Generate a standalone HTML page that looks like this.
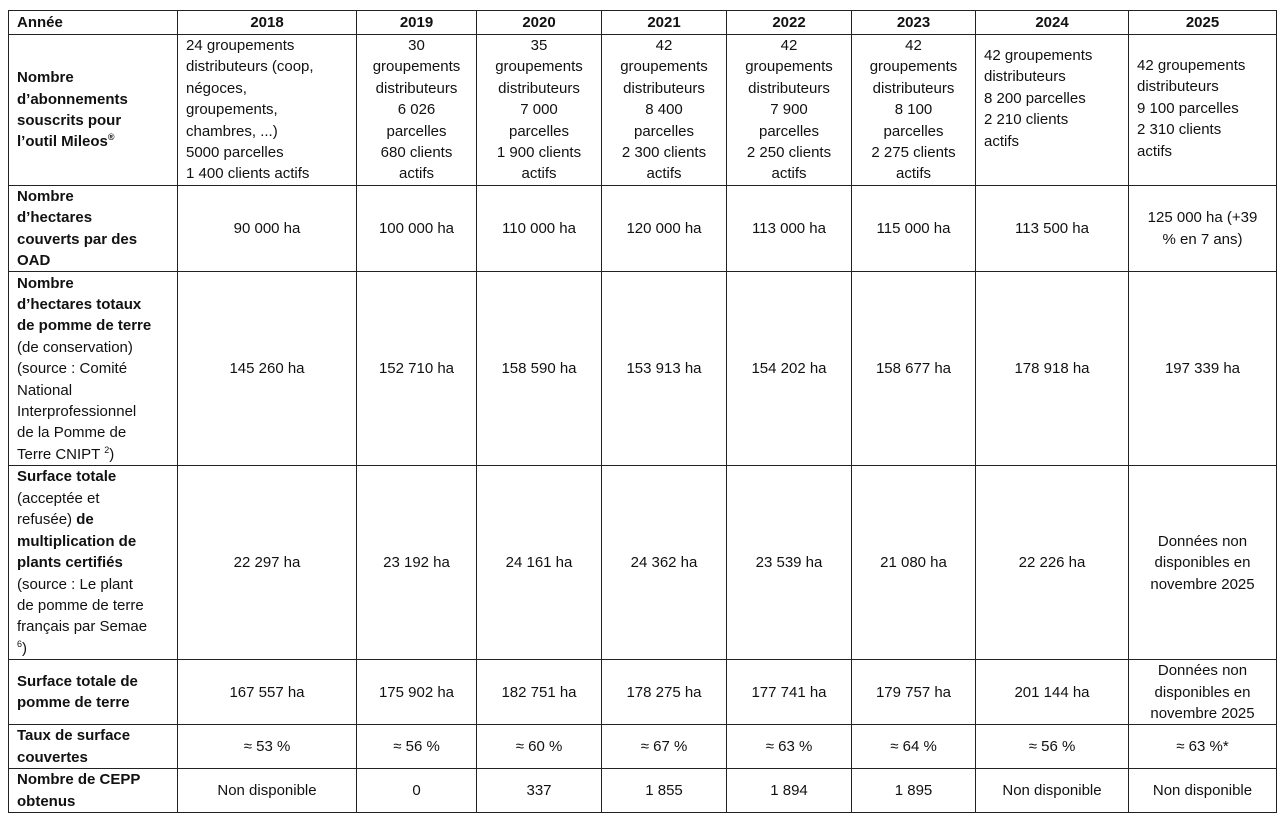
<!DOCTYPE html>
<html><head><meta charset="utf-8"><style>
html,body{margin:0;padding:0;background:#fff;width:1283px;height:824px;overflow:hidden}
table{position:absolute;left:8px;top:10px;border-collapse:collapse;table-layout:fixed;font-family:"Liberation Sans",sans-serif;font-size:15px;line-height:21.4px;color:#111}
td{border:1px solid #222;padding:0 8px;text-align:center;vertical-align:middle;white-space:nowrap;overflow:hidden}
td.h{text-align:left}
tr.hd td{font-weight:bold;line-height:20px}
td.l{text-align:left}
sup{font-size:9px;line-height:0}
</style></head><body>
<table>
<colgroup><col style="width:169px"><col style="width:179px"><col style="width:120px"><col style="width:125px"><col style="width:125px"><col style="width:125px"><col style="width:124px"><col style="width:153px"><col style="width:148px"></colgroup>
<tr class="hd" style="height:24px"><td class="h">Année</td><td>2018</td><td>2019</td><td>2020</td><td>2021</td><td>2022</td><td>2023</td><td>2024</td><td>2025</td></tr>
<tr style="height:150px"><td class="h"><b>Nombre<br>d’abonnements<br>souscrits pour<br>l’outil Mileos<sup>®</sup></b></td>
<td class="l">24 groupements<br>distributeurs (coop,<br>négoces,<br>groupements,<br>chambres, ...)<br>5000 parcelles<br>1 400 clients actifs</td>
<td>30<br>groupements<br>distributeurs<br>6 026<br>parcelles<br>680 clients<br>actifs</td>
<td>35<br>groupements<br>distributeurs<br>7 000<br>parcelles<br>1 900 clients<br>actifs</td>
<td>42<br>groupements<br>distributeurs<br>8 400<br>parcelles<br>2 300 clients<br>actifs</td>
<td>42<br>groupements<br>distributeurs<br>7 900<br>parcelles<br>2 250 clients<br>actifs</td>
<td>42<br>groupements<br>distributeurs<br>8 100<br>parcelles<br>2 275 clients<br>actifs</td>
<td class="l" style="vertical-align:top;padding-top:10px">42 groupements<br>distributeurs<br>8 200 parcelles<br>2 210 clients<br>actifs</td>
<td class="l" style="vertical-align:top;padding-top:20px">42 groupements<br>distributeurs<br>9 100 parcelles<br>2 310 clients<br>actifs</td></tr>
<tr style="height:85px"><td class="h"><b>Nombre<br>d’hectares<br>couverts par des<br>OAD</b></td><td>90 000 ha</td><td>100 000 ha</td><td>110 000 ha</td><td>120 000 ha</td><td>113 000 ha</td><td>115 000 ha</td><td>113 500 ha</td><td>125 000 ha (+39<br>% en 7 ans)</td></tr>
<tr style="height:194px"><td class="h"><b>Nombre<br>d’hectares totaux<br>de pomme de terre</b><br>(de conservation)<br>(source : Comité<br>National<br>Interprofessionnel<br>de la Pomme de<br>Terre CNIPT <sup>2</sup>)</td><td>145 260 ha</td><td>152 710 ha</td><td>158 590 ha</td><td>153 913 ha</td><td>154 202 ha</td><td>158 677 ha</td><td>178 918 ha</td><td>197 339 ha</td></tr>
<tr style="height:192px"><td class="h"><b>Surface totale</b><br>(acceptée et<br>refusée) <b>de<br>multiplication de<br>plants certifiés</b><br>(source : Le plant<br>de pomme de terre<br>français par Semae<br><sup>6</sup>)</td><td>22 297 ha</td><td>23 192 ha</td><td>24 161 ha</td><td>24 362 ha</td><td>23 539 ha</td><td>21 080 ha</td><td>22 226 ha</td><td>Données non<br>disponibles en<br>novembre 2025</td></tr>
<tr style="height:65px"><td class="h"><b>Surface totale de<br>pomme de terre</b></td><td>167 557 ha</td><td>175 902 ha</td><td>182 751 ha</td><td>178 275 ha</td><td>177 741 ha</td><td>179 757 ha</td><td>201 144 ha</td><td>Données non<br>disponibles en<br>novembre 2025</td></tr>
<tr style="height:42px"><td class="h"><b>Taux de surface<br>couvertes</b></td><td>≈ 53 %</td><td>≈ 56 %</td><td>≈ 60 %</td><td>≈ 67 %</td><td>≈ 63 %</td><td>≈ 64 %</td><td>≈ 56 %</td><td>≈ 63 %*</td></tr>
<tr style="height:42px"><td class="h"><b>Nombre de CEPP<br>obtenus</b></td><td>Non disponible</td><td>0</td><td>337</td><td>1 855</td><td>1 894</td><td>1 895</td><td>Non disponible</td><td>Non disponible</td></tr>
</table>
</body></html>
